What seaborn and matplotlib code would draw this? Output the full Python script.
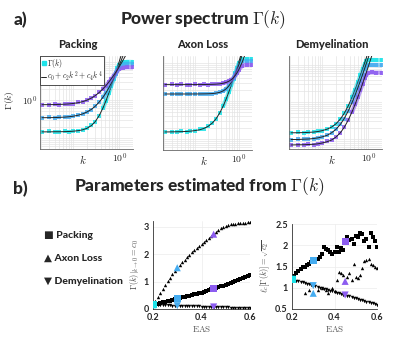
import numpy as np
import seaborn as sns
import matplotlib.pyplot as plt
from matplotlib.lines import Line2D
from matplotlib.ticker import NullFormatter

# colours of the three EAS levels
CYAN = '#1de3e8'
BLUE = '#45acf0'
PURPLE = '#8c5cf0'

# wavenumbers of the power spectrum samples
K_PTS = [0.021, 0.03, 0.04, 0.05, 0.065, 0.08, 0.1, 0.13, 0.16, 0.2, 0.25, 0.3,
         0.37, 0.45, 0.52, 0.6, 0.68, 0.76, 0.84, 0.92, 1.0, 1.2, 1.5, 2.0]

# Packing
PACK_CYAN = [0.142, 0.150, 0.147, 0.141, 0.149, 0.146, 0.153, 0.155, 0.166, 0.178, 0.215, 0.265,
             0.39, 0.63, 0.97, 1.55, 2.4, 3.55, 5.1, 7.0, 8.6, 9.8, 10.1, 10.0]
PACK_CYAN_FIT = [0.145, 0.145, 0.146, 0.146, 0.147, 0.148, 0.151, 0.156, 0.164, 0.180, 0.213, 0.267,
                 0.392, 0.636, 0.975, 1.556, 2.41, 3.60, 5.23, 7.37, 10.15, 20.6, 49.4, 154]
PACK_BLUE = [0.338, 0.35, 0.34, 0.352, 0.347, 0.36, 0.37, 0.405, 0.425, 0.49, 0.56, 0.69,
             0.88, 1.2, 1.56, 2.1, 2.8, 3.7, 4.8, 6.0, 7.4, 8.8, 9.1, 9.0]
PACK_BLUE_FIT = [0.342, 0.343, 0.345, 0.349, 0.354, 0.362, 0.374, 0.399, 0.430, 0.483, 0.569, 0.681,
                 0.886, 1.205, 1.573, 2.12, 2.83, 3.74, 4.88, 6.28, 8.04, 14.15, 29.8, 82.7]
PACK_PURPLE = [0.75, 0.76, 0.79, 0.74, 0.78, 0.8, 0.8, 0.86, 0.9, 1.0, 1.12, 1.3,
               1.58, 2.0, 2.4, 2.95, 3.6, 4.35, 5.1, 5.9, 6.6, 7.1, 7.3, 7.2]
PACK_PURPLE_FIT = [0.753, 0.755, 0.760, 0.765, 0.775, 0.788, 0.81, 0.852, 0.904, 0.991, 1.128, 1.296,
                   1.584, 1.994, 2.423, 3.00, 3.67, 4.45, 5.33, 6.33, 7.45, 10.84, 17.8, 36.0]

# Axon loss
AXON_CYAN = [0.15, 0.157, 0.152, 0.16, 0.155, 0.165, 0.163, 0.178, 0.186, 0.22, 0.26, 0.335,
             0.48, 0.76, 1.13, 1.75, 2.6, 3.8, 5.4, 7.5, 9.9, 12.4, 12.8, 12.7]
AXON_CYAN_FIT = [0.153, 0.154, 0.155, 0.156, 0.158, 0.161, 0.166, 0.175, 0.189, 0.214, 0.262, 0.332,
                 0.485, 0.767, 1.143, 1.77, 2.67, 3.91, 5.58, 7.76, 10.56, 21.0, 49.6, 152.8]
AXON_BLUE = [1.5, 1.55, 1.52, 1.54, 1.51, 1.53, 1.56, 1.52, 1.5, 1.54, 1.56, 1.6,
             1.7, 1.85, 2.1, 2.5, 3.1, 3.95, 5.1, 6.6, 8.6, 11.0, 11.4, 11.3]
AXON_BLUE_FIT = [1.53, 1.53, 1.53, 1.53, 1.53, 1.531, 1.532, 1.535, 1.54, 1.549, 1.570, 1.606,
                 1.690, 1.862, 2.103, 2.522, 3.14, 4.01, 5.21, 6.79, 8.83, 16.5, 37.9, 115.9]
AXON_PURPLE = [2.65, 2.72, 2.68, 2.74, 2.7, 2.66, 2.73, 2.7, 2.76, 2.71, 2.76, 2.8,
               2.85, 2.95, 3.1, 3.3, 3.65, 4.1, 4.7, 5.5, 6.6, 8.6, 9.0, 8.9]
AXON_PURPLE_FIT = [2.70, 2.70, 2.70, 2.70, 2.70, 2.703, 2.705, 2.709, 2.715, 2.726, 2.745, 2.773,
                   2.833, 2.943, 3.087, 3.327, 3.669, 4.14, 4.77, 5.60, 6.65, 10.57, 21.3, 59.9]

# Demyelination
DEMY_CYAN = [0.146, 0.15, 0.148, 0.153, 0.151, 0.16, 0.166, 0.188, 0.208, 0.26, 0.345, 0.49,
             0.79, 1.36, 2.13, 3.4, 5.25, 7.8, 10.5, 12.8, 13.6, 13.7, 13.6, 13.5]
DEMY_CYAN_FIT = [0.147, 0.148, 0.149, 0.151, 0.154, 0.159, 0.168, 0.186, 0.210, 0.258, 0.349, 0.488,
                 0.795, 1.37, 2.15, 3.46, 5.35, 7.97, 11.5, 16.2, 22.1, 44.5, 106, 328]
DEMY_BLUE = [0.095, 0.099, 0.097, 0.101, 0.102, 0.108, 0.112, 0.128, 0.145, 0.185, 0.25, 0.35,
             0.57, 0.98, 1.53, 2.43, 3.7, 5.45, 7.8, 9.3, 10.0, 10.1, 10.0, 9.9]
DEMY_BLUE_FIT = [0.097, 0.097, 0.099, 0.100, 0.103, 0.107, 0.114, 0.127, 0.147, 0.183, 0.251, 0.354,
                 0.576, 0.988, 1.54, 2.46, 3.78, 5.61, 8.07, 11.3, 15.4, 30.8, 73.2, 226]
DEMY_PURPLE = [0.068, 0.071, 0.069, 0.072, 0.071, 0.075, 0.077, 0.086, 0.093, 0.114, 0.148, 0.205,
               0.32, 0.55, 0.86, 1.37, 2.1, 3.1, 4.4, 5.5, 6.1, 6.3, 6.2, 6.2]
DEMY_PURPLE_FIT = [0.069, 0.070, 0.070, 0.071, 0.072, 0.074, 0.078, 0.085, 0.094, 0.113, 0.149, 0.204,
                   0.326, 0.555, 0.865, 1.39, 2.14, 3.19, 4.60, 6.46, 8.85, 17.8, 42.3, 131]

# estimated parameters vs EAS
EAS = [0.20, 0.21, 0.22, 0.23, 0.24, 0.25, 0.26, 0.27, 0.28, 0.29, 0.30, 0.31, 0.32, 0.33,
       0.34, 0.35, 0.36, 0.37, 0.38, 0.39, 0.40, 0.41, 0.42, 0.43, 0.44, 0.45, 0.46, 0.47,
       0.48, 0.49, 0.50, 0.51, 0.52, 0.53, 0.54, 0.55, 0.56, 0.57, 0.58, 0.59, 0.60]
C0_AXON = [0.15, 0.3, 0.45, 0.6, 0.74, 0.88, 1.01, 1.14, 1.26, 1.38, 1.5, 1.6, 1.7, 1.8,
           1.89, 1.98, 2.06, 2.14, 2.22, 2.29, 2.36, 2.43, 2.5, 2.57, 2.64, 2.72, 2.79, 2.86,
           2.93, 2.99, 3.03, 3.06, 3.08, 3.09, 3.1, 3.11, 3.12, 3.13, 3.14, 3.15, 3.16]
C0_PACK = [0.15, 0.17, 0.2, 0.22, 0.24, 0.26, 0.28, 0.3, 0.33, 0.35, 0.37, 0.39, 0.42, 0.44,
           0.46, 0.48, 0.51, 0.53, 0.55, 0.58, 0.6, 0.63, 0.65, 0.68, 0.71, 0.74, 0.76, 0.79,
           0.82, 0.85, 0.88, 0.91, 0.95, 0.98, 1.01, 1.05, 1.09, 1.13, 1.17, 1.21, 1.25]
C0_DEMY = [0.15, 0.147, 0.144, 0.141, 0.138, 0.135, 0.132, 0.129, 0.126, 0.123, 0.12, 0.117,
           0.114, 0.111, 0.108, 0.105, 0.102, 0.099, 0.096, 0.093, 0.09, 0.087, 0.084, 0.081,
           0.078, 0.075, 0.072, 0.069, 0.066, 0.063, 0.06, 0.057, 0.054, 0.051, 0.048, 0.045,
           0.042, 0.039, 0.036, 0.033, 0.03]
LC_DEMY = [1.2, 1.185, 1.17, 1.155, 1.14, 1.125, 1.11, 1.095, 1.08, 1.065, 1.05, 1.035, 1.02,
           1.005, 0.99, 0.975, 0.96, 0.945, 0.93, 0.915, 0.9, 0.885, 0.87, 0.855, 0.84, 0.825,
           0.81, 0.795, 0.78, 0.765, 0.75, 0.735, 0.72, 0.705, 0.69, 0.675, 0.66, 0.645, 0.63,
           0.615, 0.6]
EAS_LC_PACK = [0.21, 0.22, 0.23, 0.24, 0.25, 0.26, 0.27, 0.28, 0.29, 0.31, 0.32, 0.33, 0.34,
               0.35, 0.36, 0.37, 0.38, 0.39, 0.40, 0.41, 0.42, 0.43, 0.44, 0.46, 0.47, 0.48,
               0.49, 0.50, 0.51, 0.52, 0.53, 0.54, 0.55, 0.56, 0.57, 0.58, 0.59, 0.60]
LC_PACK = [1.28, 1.34, 1.4, 1.44, 1.48, 1.5, 1.53, 1.55, 1.6, 1.66, 1.68, 1.72, 1.8,
           1.95, 1.92, 1.88, 1.84, 1.8, 1.84, 1.95, 1.85, 1.93, 1.9, 2.2, 2.12, 2.15,
           2.02, 2.22, 2.2, 2.28, 2.26, 2.1, 2.15, 1.95, 2.3, 2.2, 2.1, 1.95]
EAS_LC_AXON = [0.26, 0.28, 0.32, 0.34, 0.36, 0.37, 0.39, 0.40, 0.41, 0.42, 0.43, 0.44, 0.46,
               0.47, 0.48, 0.49, 0.50, 0.51, 0.52, 0.53, 0.54, 0.55, 0.56, 0.57, 0.58, 0.59, 0.60]
LC_AXON = [0.87, 0.95, 0.95, 0.99, 0.95, 0.88, 0.99, 0.93, 1.18, 1.38, 1.35, 1.3, 1.26,
           1.35, 1.18, 1.57, 1.26, 1.22, 1.3, 1.46, 1.62, 1.65, 1.67, 1.57, 1.53, 1.5, 1.46]

# highlighted EAS levels (same colours as the spectra)
HL_EAS = [0.2, 0.3, 0.45]
HL_COLORS = [CYAN, BLUE, PURPLE]
HL_C0_PACK = [0.15, 0.37, 0.74]
HL_C0_AXON = [0.15, 1.5, 2.72]
HL_C0_DEMY = [0.15, 0.12, 0.075]
HL_LC_PACK = [1.2, 1.65, 2.08]
HL_LC_AXON = [1.2, 0.87, 1.15]
HL_LC_DEMY = [1.2, 1.05, 0.83]

sns.set_style('white')
plt.rcParams['font.family'] = ['Lato', 'DejaVu Sans']
plt.rcParams['mathtext.fontset'] = 'cm'

W, H = 400, 338
fig = plt.figure(figsize=(W / 100, H / 100), dpi=100)


def add_ax(l, t, r, b):
    return fig.add_axes([l / W, 1 - b / H, (r - l) / W, (b - t) / H])


def fx(x):
    return x / W


def fy(y):
    return 1 - y / H


# ---- a) power spectra
fig.text(fx(20), fy(20), 'a)', fontsize=12.5, fontweight='black', ha='center', va='center')
fig.text(fx(203), fy(20), r'Power spectrum $\mathbf{\Gamma}(k)$', fontsize=12.5,
         fontweight='black', ha='center', va='center')

panels = [
    ('Packing', (40, 56, 133, 149), (0.0513, 14.4), 78,
     [(PACK_CYAN, PACK_CYAN_FIT, CYAN), (PACK_BLUE, PACK_BLUE_FIT, BLUE),
      (PACK_PURPLE, PACK_PURPLE_FIT, PURPLE)]),
    ('Axon Loss', (163, 56, 252, 150), (0.0513, 15.3), 203,
     [(AXON_CYAN, AXON_CYAN_FIT, CYAN), (AXON_BLUE, AXON_BLUE_FIT, BLUE),
      (AXON_PURPLE, AXON_PURPLE_FIT, PURPLE)]),
    ('Demyelination', (289, 56, 382, 149), (0.0537, 17.5), 332,
     [(DEMY_CYAN, DEMY_CYAN_FIT, CYAN), (DEMY_BLUE, DEMY_BLUE_FIT, BLUE),
      (DEMY_PURPLE, DEMY_PURPLE_FIT, PURPLE)]),
]

for i, (title, box, ylim, tx, series) in enumerate(panels):
    ax = add_ax(*box)
    ax.set_xscale('log')
    ax.set_yscale('log')
    for data, fit, col in series:
        # the dense high-k samples merge into a thick band
        sns.lineplot(x=K_PTS[13:], y=data[13:], ax=ax, color=col, lw=3, alpha=0.6)
        sns.scatterplot(x=K_PTS, y=data, ax=ax, color=col, marker='s', s=6,
                        linewidth=0, alpha=0.85)
        sns.lineplot(x=K_PTS, y=fit, ax=ax, color='#222222', lw=0.7)
    ax.set_xlim(0.019, 2.0)
    ax.set_ylim(*ylim)
    ax.grid(True, which='both', color='#e4e4e4', lw=0.5)
    ax.set_axisbelow(True)
    ax.set_xticks([0.1, 1])
    ax.set_xticklabels(['', r'$10^0$'])
    ax.set_yticks([0.1, 1, 10])
    ax.set_yticklabels(['', r'$10^0$', ''] if i == 0 else ['', '', ''])
    ax.xaxis.set_minor_formatter(NullFormatter())
    ax.yaxis.set_minor_formatter(NullFormatter())
    ax.tick_params(which='both', length=0, labelsize=7, pad=2)
    for s in ['top', 'right']:
        ax.spines[s].set_visible(False)
    for s in ['left', 'bottom']:
        ax.spines[s].set_color('#666666')
        ax.spines[s].set_linewidth(0.6)
    ax.text(0.46, -0.04, r'$k$', transform=ax.transAxes, ha='center', va='top', fontsize=8)
    fig.text(fx(tx), fy(45), title, fontsize=8, fontweight='black', ha='center', va='center')
    if i == 0:
        handles = [Line2D([], [], marker='s', color=CYAN, ls='none', ms=2.4),
                   Line2D([], [], color='#222222', lw=0.7)]
        ax.legend(handles, [r'$\Gamma(k)$', r'$c_0+c_2k^2+c_4k^4$'], loc='upper left',
                  fontsize=5.6, frameon=True, fancybox=False, edgecolor='#333333',
                  framealpha=1, borderpad=0.1, handlelength=0.6, handletextpad=0.2,
                  labelspacing=0.0, borderaxespad=0.05)
        ax.get_legend().get_frame().set_linewidth(0.6)

fig.text(fx(10), fy(100), r'$\Gamma(k)$', rotation=90, fontsize=7, ha='center', va='center')

# ---- b) estimated parameters
fig.text(fx(20), fy(189), 'b)', fontsize=12.5, fontweight='black', ha='center', va='center')
fig.text(fx(199), fy(187), r'Parameters estimated from $\mathbf{\Gamma}(k)$', fontsize=12.5,
         fontweight='black', ha='center', va='center')

for yy, lab in [(235, '\u25a0 Packing'), (258, '\u25b2 Axon Loss'), (281, '\u25bc Demyelination')]:
    fig.text(fx(44), fy(yy), lab, fontsize=7.5, fontweight='black', ha='left', va='center')


def param_axes(box, ylim, yticks, ylabel, layers, hl):
    ax = add_ax(*box)
    for x, y, m in layers:
        sns.scatterplot(x=x, y=y, ax=ax, marker=m, s=6, color='black', linewidth=0)
    for vals, m in hl:
        sns.scatterplot(x=HL_EAS, y=vals, ax=ax, marker=m, s=26, hue=HL_EAS,
                        palette=HL_COLORS, linewidth=0, legend=False, zorder=5)
    ax.set_xlim(0.2, 0.6)
    ax.set_ylim(*ylim)
    ax.set_xticks([0.2, 0.4, 0.6])
    ax.set_yticks(yticks)
    ax.set_yticklabels([('%g' % v) for v in yticks])
    ax.grid(True, color='#ececec', lw=0.5)
    ax.tick_params(length=2, width=0.5, labelsize=6.5, pad=1)
    for lbl in ax.get_xticklabels() + ax.get_yticklabels():
        lbl.set_fontweight('bold')
    for s in ['top', 'right']:
        ax.spines[s].set_visible(False)
    for s in ['left', 'bottom']:
        ax.spines[s].set_color('#333333')
        ax.spines[s].set_linewidth(0.6)
    ax.set_xlabel(r'$\mathrm{EAS}$', fontsize=6.5, color='#555555', labelpad=1)
    ax.set_ylabel(ylabel, fontsize=6, color='#444444', labelpad=2)
    return ax


param_axes((153, 221, 250, 309), (0, 3.2), [0, 1, 2, 3], r'$\Gamma(k)|_{k\rightarrow 0}=c_0$',
           [(EAS, C0_AXON, '^'), (EAS, C0_PACK, 's'), (EAS, C0_DEMY, 'v')],
           [(HL_C0_AXON, '^'), (HL_C0_PACK, 's'), (HL_C0_DEMY, 'v')])
param_axes((292, 224, 377, 309), (0.5, 2.5), [0.5, 1, 1.5, 2, 2.5],
           r'$\ell_c[\Gamma(k)]=\sqrt{c_2}$',
           [(EAS_LC_PACK, LC_PACK, 's'), (EAS_LC_AXON, LC_AXON, '^'), (EAS, LC_DEMY, 'v')],
           [(HL_LC_PACK, 's'), (HL_LC_AXON, '^'), (HL_LC_DEMY, 'v')])

fig.savefig('out.png', dpi=100)
